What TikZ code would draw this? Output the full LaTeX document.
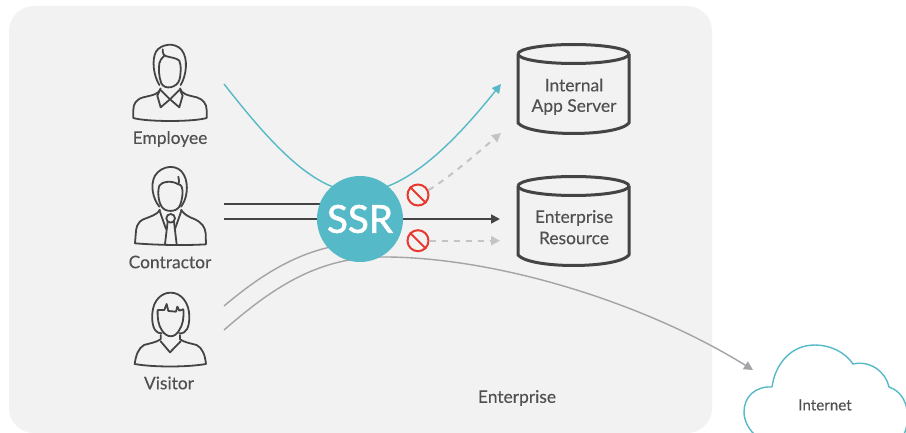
\documentclass[tikz,border=0pt]{standalone}
\usepackage{fontspec}
\setmainfont{Lato}
\newfontfamily\ssrfont[FakeBold=1.6]{Lato}
\newfontfamily\labfont[FakeBold=0.15]{Lato}
\usetikzlibrary{arrows.meta,backgrounds}
\definecolor{bgc}{HTML}{F2F2F2}
\definecolor{ink}{HTML}{444444}
\definecolor{txt}{HTML}{505050}
\definecolor{teal}{HTML}{55B9C8}
\definecolor{graya}{HTML}{A3A3A8}
\definecolor{dashc}{HTML}{C4C4C4}
\definecolor{nored}{HTML}{E8392E}
\tikzset{
 lab/.style={text=txt,font=\labfont\fontsize{17.4}{21}\selectfont,inner sep=0pt,align=center},
 person/.style={draw=ink,line width=1.8pt,line join=round,line cap=round},
 db/.style={draw=ink,line width=3pt,line join=round},
 tealline/.style={draw=teal,line width=1.4pt},
 darkline/.style={draw=ink,line width=1.8pt},
 grayline/.style={draw=graya,line width=1.4pt},
 dashline/.style={draw=dashc,line width=2pt,dash pattern=on 6pt off 6pt},
 nosign/.style={circle,draw=nored,line width=2pt,minimum size=21pt,inner sep=0pt},
 tipA/.style={-{Triangle[length=9pt,width=9pt]}},
}
\begin{document}
\begin{tikzpicture}[x=1pt,y=-1pt]
\useasboundingbox (0,0) rectangle (906,433);

\node[circle,fill=teal,minimum size=86pt,inner sep=0pt,text=white,font=\ssrfont\fontsize{38.5}{40}\selectfont] (ssr) at (360,219) {SSR};

% anchors
\coordinate (e0) at (224,84);
\coordinate (a1) at (501,84);
\coordinate (c1) at (224,204);
\coordinate (c2) at (224,219);
\coordinate (r2) at (500,219);
\coordinate (v1) at (224,306);
\coordinate (v2) at (224,330);
\coordinate (net) at (753,370);
\coordinate (d1) at (501,133);
\coordinate (d2) at (500,240.7);

\begin{pgfonlayer}{background}
\fill[white] (0,0) rectangle (906,433);
\fill[bgc,rounded corners=25pt] (9,6) rectangle (712,433);
\draw[tealline,tipA] (e0) .. controls (268,140) and (315,195) .. (362,192) .. controls (410,190) and (460,135) .. (a1);
\draw[darkline] (c1) -- (c1 -| ssr.center);
\draw[darkline,tipA] (c2) -- (r2);
\draw[grayline] (v1) .. controls (255,280) and (290,255) .. (335,246);
\draw[grayline,tipA] (v2) .. controls (270,290) and (315,258) .. (380,257) .. controls (490,256) and (640,300) .. (net);
\end{pgfonlayer}

\node[nosign] (n1) at (418,195) {};
\node[nosign] (n2) at (418,240.7) {};
\draw[nored,line width=2pt] (n1.135) -- (n1.315);
\draw[nored,line width=2pt] (n2.135) -- (n2.315);
\draw[dashline,tipA] (n1.25) .. controls (450,177) and (475,155) .. (d1);
\draw[dashline,tipA] (n2.east) -- (d2);

% databases
\foreach \yy in {0,132}{
 \begin{scope}[yshift=-\yy pt]
 \draw[db] (518,54) arc[start angle=180,end angle=0,x radius=55.5,y radius=-9.5];
 \draw[db] (518,54) arc[start angle=180,end angle=360,x radius=55.5,y radius=-9.5];
 \draw[db] (518,54) -- (518,123) .. controls (530,137) and (617,137) .. (629,123) -- (629,54);
 \end{scope}
}
\node[lab] (s1a) at (574,85) {Internal};
\node[lab] (s1b) at (574,107) {App Server};
\node[lab] (s2a) at (574,218) {Enterprise};
\node[lab] (s2b) at (574,238) {Resource};

% labels
\node[lab] (l1) at (170,139) {Employee};
\node[lab] (l2) at (170,262) {Contractor};
\node[lab] (l3) at (169,383) {Visitor};
\node[lab] (l4) at (517,398) {Enterprise};

% employee
\begin{scope}[shift={(120,30)},x=0.3333pt,y=-0.3333pt]
\draw[person] (118,165) .. controls (100,135) and (95,90) .. (108,65) .. controls (122,42) and (165,35) .. (185,60) .. controls (205,85) and (200,135) .. (182,165);
\draw[person] (128,58) .. controls (128,70) and (130,76) .. (140,79) .. controls (150,82) and (170,84) .. (178,92) .. controls (184,105) and (183,135) .. (178,150) .. controls (172,172) and (135,182) .. (124,160) .. controls (116,140) and (116,115) .. (118,100) .. controls (119,92) and (125,85) .. (132,78);
\draw[person] (122,175) .. controls (118,192) and (100,195) .. (70,202) .. controls (48,208) and (40,222) .. (40,240) -- (40,264) .. controls (80,276) and (220,276) .. (260,264) -- (260,240) .. controls (260,222) and (250,208) .. (230,202) .. controls (200,195) and (185,192) .. (180,175);
\draw[person] (120,180) -- (112,197) -- (122,232) -- (150,208) -- (178,232) -- (188,197) -- (180,180);
\draw[person] (122,180) -- (150,208) -- (178,180);
\end{scope}
% contractor
\begin{scope}[shift={(120,155)},x=0.3333pt,y=-0.3333pt]
\draw[person] (118,155) .. controls (98,130) and (90,90) .. (105,62) .. controls (125,30) and (175,25) .. (192,60) .. controls (208,90) and (200,135) .. (183,155);
\draw[person] (175,65) .. controls (178,75) and (178,82) .. (175,88) .. controls (155,75) and (125,80) .. (118,92) .. controls (112,110) and (115,140) .. (125,155) .. controls (135,172) and (168,172) .. (178,155) .. controls (188,135) and (190,105) .. (185,95) .. controls (182,90) and (180,88) .. (175,88);
\draw[person] (120,165) .. controls (110,180) and (90,185) .. (70,193) .. controls (50,203) and (48,220) .. (47,240) -- (45,265) .. controls (110,270) and (190,272) .. (258,268) -- (257,235) .. controls (255,215) and (245,203) .. (225,193) .. controls (205,185) and (195,180) .. (183,165);
\draw[person] (118,165) -- (138,222);
\draw[person] (185,165) -- (165,222);
\draw[person] (152,190) circle[x radius=13,y radius=13];
\draw[person] (143,200) -- (135,268);
\draw[person] (162,200) -- (170,268);
\end{scope}
% visitor
\begin{scope}[shift={(120,280)},x=0.3333pt,y=-0.3333pt]
\draw[person] (125,160) .. controls (100,160) and (95,130) .. (97,100) .. controls (100,60) and (125,38) .. (152,38) .. controls (185,38) and (208,70) .. (208,110) .. controls (208,140) and (200,162) .. (178,160);
\draw[person] (113,90) .. controls (112,115) and (115,135) .. (125,150) .. controls (140,175) and (165,175) .. (178,150) .. controls (188,135) and (192,115) .. (190,88) -- (178,92) -- (172,80) -- (168,95) -- (145,93) -- (140,72) -- (133,90) -- cycle;
\draw[person] (122,165) -- (122,178) .. controls (105,188) and (90,190) .. (72,195) .. controls (55,205) and (48,225) .. (44,252) .. controls (100,262) and (200,262) .. (258,252) .. controls (255,225) and (248,205) .. (230,195) .. controls (212,190) and (195,188) .. (180,178) -- (180,165);
\draw[person] (122,184) -- (150,217) -- (182,184);
\end{scope}

% cloud
\draw[teal,line width=1.4pt,fill=white] (772,387) .. controls (755,386) and (744,397) .. (744,412) .. controls (744,420) and (748,428) .. (754,434) -- (904,434) .. controls (909,425) and (912,395) .. (889,387) .. controls (886,372) and (870,360) .. (853,364) .. controls (845,352) and (830,345) .. (815,345) .. controls (790,345) and (775,365) .. (772,387);
\node[lab,font=\labfont\fontsize{15.2}{18}\selectfont] (l5) at (825,405) {Internet};
\end{tikzpicture}
\end{document}
